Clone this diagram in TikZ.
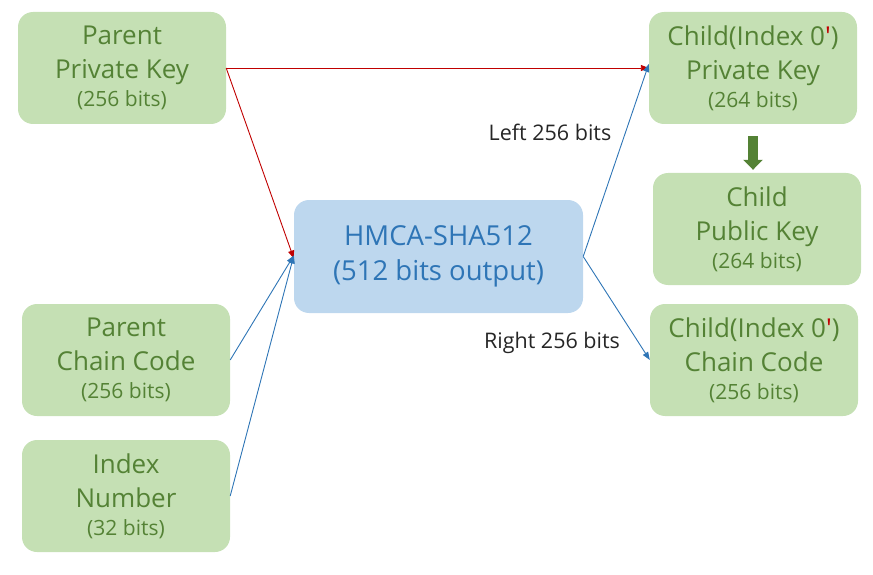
\documentclass[tikz,border=0pt]{standalone}
\usepackage{fontspec}
\setmainfont{Open Sans}
\usetikzlibrary{arrows.meta}
\definecolor{boxgreen}{HTML}{C5E0B4}
\definecolor{txtgreen}{HTML}{548235}
\definecolor{boxblue}{HTML}{BDD7EE}
\definecolor{txtblue}{HTML}{2E75B6}
\definecolor{linkred}{HTML}{C00000}
\definecolor{linkblue}{HTML}{2E75B6}
\newcommand{\rprime}{\textcolor{linkred}{′}}
\newcommand{\bitsize}{\fontsize{21}{28}\selectfont}
\begin{document}
\begin{tikzpicture}[x=1pt,y=-1pt,
  keybox/.style={draw=none, fill=boxgreen, rounded corners=15pt,
    minimum width=208pt, minimum height=112pt, inner sep=0pt,
    text=txtgreen, align=center, font=\fontsize{26}{34}\selectfont},
  hashbox/.style={draw=none, fill=boxblue, rounded corners=15pt,
    minimum width=289pt, minimum height=113pt, inner sep=0pt,
    text=txtblue, align=center, font=\fontsize{27.5}{35}\selectfont},
  redlink/.style={draw=linkred, line width=0.9pt, -{Triangle[length=8pt,width=6pt]}},
  bluelink/.style={draw=linkblue, line width=0.9pt, -{Triangle[length=8pt,width=6pt]}},
  biglink/.style={draw=txtgreen, line width=10pt, -{Triangle[length=10pt,width=19pt]}},
  lbl/.style={text=black!85, font=\fontsize{21.5}{24}\selectfont}]
\useasboundingbox (0,0) rectangle (873,575);

% inputs
\node[keybox] (ppk) at (122,68) {Parent\\Private Key\\[-6pt]{\bitsize (256 bits)}};
\node[keybox] (pcc) at (126,360) {Parent\\Chain Code\\[-6pt]{\bitsize (256 bits)}};
\node[keybox] (idx) at (126,496) {Index\\Number\\[-6pt]{\bitsize (32 bits)}};

% hash function
\node[hashbox] (hm) at (438.5,256.5) {HMCA-SHA512\\(512 bits output)};

% outputs
\node[keybox] (cpk) at (753,68) {Child(Index 0\rprime)\\Private Key\\[-6pt]{\bitsize (264 bits)}};
\node[keybox] (pub) at (757,229) {Child\\Public Key\\[-6pt]{\bitsize (264 bits)}};
\node[keybox] (ccc) at (754,360) {Child(Index 0\rprime)\\Chain Code\\[-6pt]{\bitsize (256 bits)}};

% connectors
\draw[redlink] (ppk.east) -- (cpk.west);
\draw[redlink] (ppk.east) -- ([yshift=-2pt]hm.west);
\draw[bluelink] (pcc.east) -- ([yshift=1pt]hm.west);
\draw[bluelink] (idx.east) -- ([yshift=1pt]hm.west);
\draw[bluelink] (hm.east) -- ([yshift=4pt]cpk.west);
\draw[bluelink] (hm.east) -- (ccc.west);
\draw[biglink, shorten <=12pt, shorten >=3pt] (cpk.south) -- (cpk.south |- pub.north);

% labels
\node[lbl] (lft) at (550,132) {Left 256 bits};
\node[lbl] (rgt) at (552,343) {Right 256 bits};
\end{tikzpicture}
\end{document}
